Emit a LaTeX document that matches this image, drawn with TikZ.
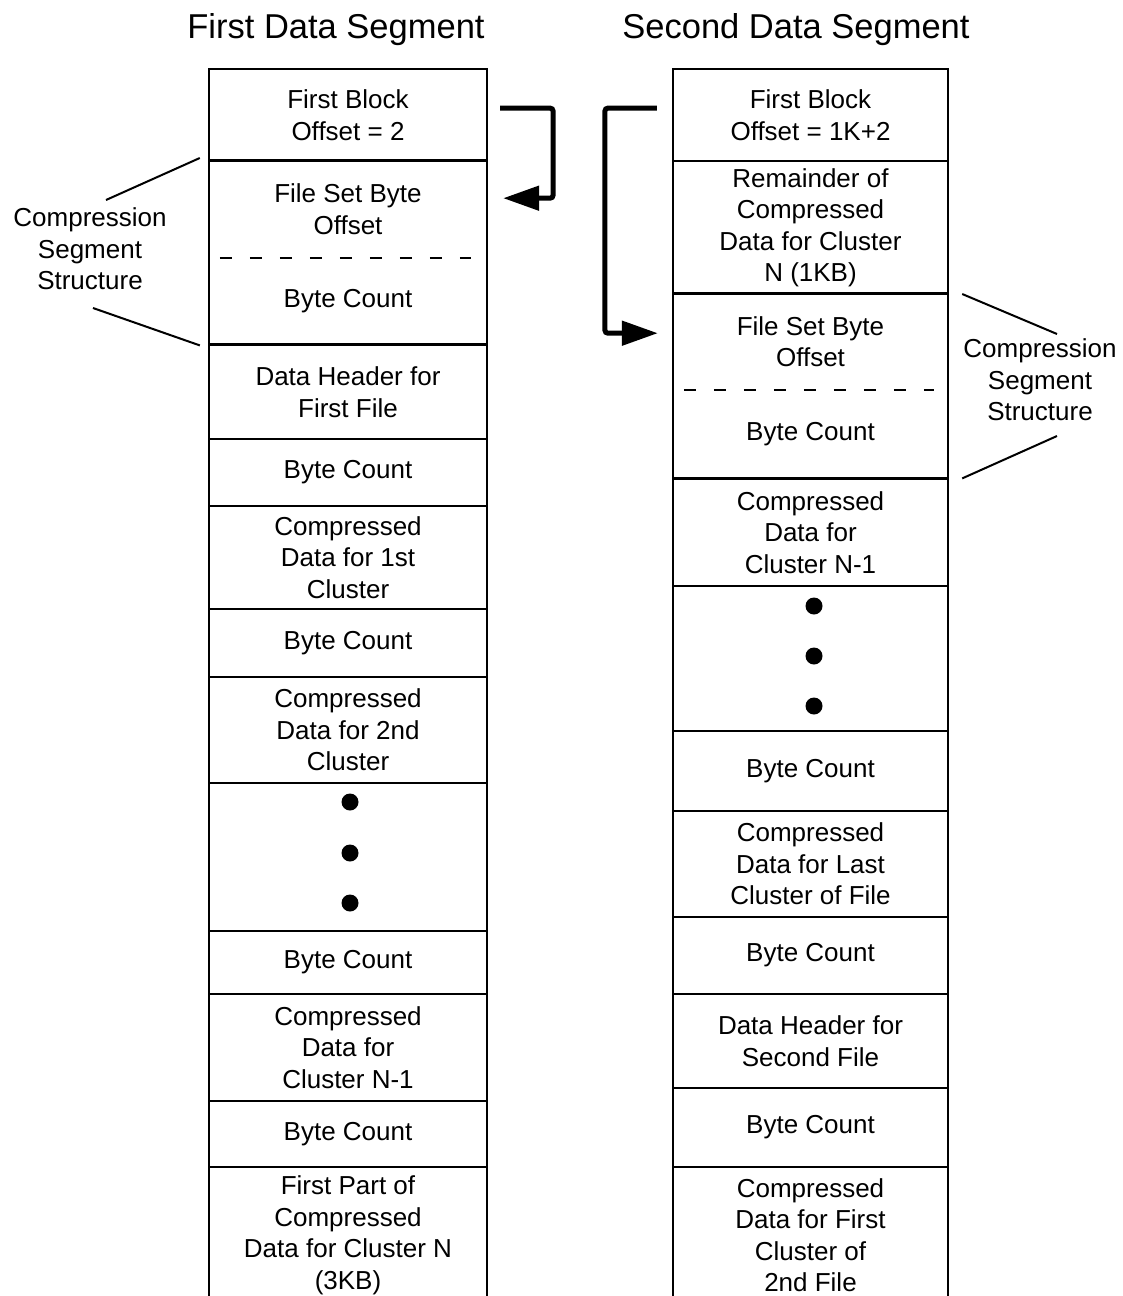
\documentclass[tikz,border=0pt]{standalone}
\usepackage{fontspec}
\setmainfont{Liberation Sans}
\usetikzlibrary{arrows.meta}
\newcommand{\cellfont}{\fontsize{26}{31.5}\selectfont}
\newcommand{\headfont}{\fontsize{34.5}{40}\selectfont}
\tikzset{
  cell/.style={draw, line width=2.2pt, anchor=north, minimum width=278pt, inner sep=0pt, align=center, font=\cellfont},
  half/.style={anchor=north, minimum width=278pt, inner sep=0pt, align=center, font=\cellfont},
  flow/.style={line width=5pt, rounded corners=3pt, -{Triangle[length=36pt,width=24pt]}},
  brace/.style={line width=2pt},
  sepline/.style={line width=2.2pt, dash pattern=on 12pt off 18pt},
}
\begin{document}
\begin{tikzpicture}[x=1pt, y=-1pt]
\clip (0,0) rectangle (1123,1296);
% titles
\node[anchor=base, font=\headfont] (t1) at (336,38) {First Data Segment};
\node[anchor=base, font=\headfont] (t2) at (796,38) {Second Data Segment};
% first data segment
\node[cell, minimum height=92pt] (l1) at (348,68) {First Block\\Offset = 2};
\node[half, minimum height=98pt] (ls1) at (348,160) {File Set Byte\\Offset};
\node[half, minimum height=86pt] (ls2) at (348,258) {Byte Count};
\draw[line width=2.2pt] (ls1.north west) rectangle (ls2.south east);
\draw[sepline] ([xshift=11pt]ls2.north west) -- ([xshift=-16pt]ls2.north east);
\node[cell, minimum height=94pt] (l3) at (348,344) {Data Header for\\First File};
\node[cell, minimum height=67pt] (l4) at (348,438) {Byte Count};
\node[cell, minimum height=103pt] (l5) at (348,505) {Compressed\\Data for 1st\\Cluster};
\node[cell, minimum height=68pt] (l6) at (348,608) {Byte Count};
\node[cell, minimum height=106pt] (l7) at (348,676) {Compressed\\Data for 2nd\\Cluster};
\node[cell, minimum height=148pt] (l8) at (348,782) {};
\foreach \y in {802,853,903} \fill (350,\y) circle (8.5pt);
\node[cell, minimum height=63pt] (l9) at (348,930) {Byte Count};
\node[cell, minimum height=107pt] (l10) at (348,993) {Compressed\\Data for\\Cluster N-1};
\node[cell, minimum height=66pt] (l11) at (348,1100) {Byte Count};
\node[cell, minimum height=136pt] (l12) at (348,1166) {First Part of\\Compressed\\Data for Cluster N\\(3KB)};
% second data segment
\node[cell, minimum width=275pt, minimum height=92pt] (r1) at (810.5,68) {First Block\\Offset = 1K+2};
\node[cell, minimum width=275pt, minimum height=133pt] (r2) at (810.5,160) {Remainder of\\Compressed\\Data for Cluster\\N (1KB)};
\node[half, minimum width=275pt, minimum height=97pt] (rs1) at (810.5,293) {File Set Byte\\Offset};
\node[half, minimum width=275pt, minimum height=88pt] (rs2) at (810.5,390) {Byte Count};
\draw[line width=2.2pt] (rs1.north west) rectangle (rs2.south east);
\draw[sepline] ([xshift=11pt]rs2.north west) -- ([xshift=-14pt]rs2.north east);
\node[cell, minimum width=275pt, minimum height=107pt] (r4) at (810.5,478) {Compressed\\Data for\\Cluster N-1};
\node[cell, minimum width=275pt, minimum height=145pt] (r5) at (810.5,585) {};
\foreach \y in {606,656,706} \fill (814,\y) circle (8.5pt);
\node[cell, minimum width=275pt, minimum height=80pt] (r6) at (810.5,730) {Byte Count};
\node[cell, minimum width=275pt, minimum height=106pt] (r7) at (810.5,810) {Compressed\\Data for Last\\Cluster of File};
\node[cell, minimum width=275pt, minimum height=77pt] (r8) at (810.5,916) {Byte Count};
\node[cell, minimum width=275pt, minimum height=94pt] (r9) at (810.5,993) {Data Header for\\Second File};
\node[cell, minimum width=275pt, minimum height=79pt] (r10) at (810.5,1087) {Byte Count};
\node[cell, minimum width=275pt, minimum height=136pt] (r11) at (810.5,1166) {Compressed\\Data for First\\Cluster of\\2nd File};
% block offset arrows
\draw[flow] ([xshift=12pt,yshift=7pt]l1.east) -- ++(53,0) |- ([xshift=16pt,yshift=11pt]ls1.east);
\draw[flow] ([xshift=-15pt,yshift=7pt]r1.west) -- ++(-52,0) |- ([xshift=-15pt,yshift=8.5pt]rs1.west);
% compression segment labels
\node[align=center, font=\cellfont] (lcs) at (90,249) {Compression\\Segment\\Structure};
\coordinate (lcs-up) at (106,200);
\coordinate (lcs-dn) at (93,308);
\draw[brace] (lcs-up) -- ([xshift=-9pt,yshift=2pt]ls1.north west);
\draw[brace] (lcs-dn) -- ([xshift=-9pt,yshift=-1pt]ls2.south west);
\node[align=center, font=\cellfont] (rcs) at (1040,380) {Compression\\Segment\\Structure};
\coordinate (rcs-up) at (1057,334);
\coordinate (rcs-dn) at (1057,436);
\draw[brace] (rcs-up) -- ([xshift=14pt,yshift=-1pt]rs1.north east);
\draw[brace] (rcs-dn) -- ([xshift=14pt]rs2.south east);
\end{tikzpicture}
\end{document}
